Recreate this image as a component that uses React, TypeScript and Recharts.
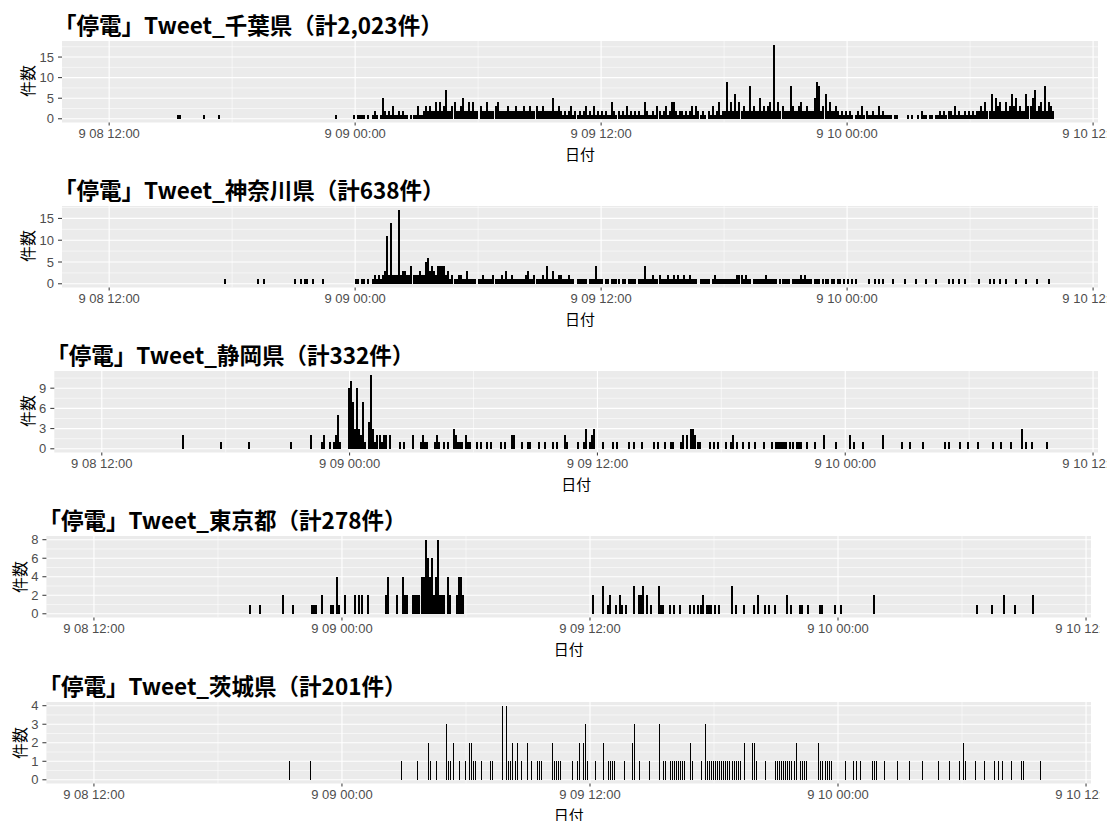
import React from 'react';
import { BarChart, Bar, XAxis, YAxis, CartesianGrid } from 'recharts';

// one row per hour (hours since 9/8 00:00), then the tweet count for each 6-minute slot of that hour
const chibaRows: number[][] = [
  [15, 0, 0, 0, 1, 1, 0, 0, 0, 0, 0],
  [16, 0, 0, 0, 0, 0, 0, 1, 0, 0, 0],
  [17, 0, 0, 0, 1, 0, 0, 0, 0, 0, 0],
  [23, 1, 0, 0, 0, 0, 0, 0, 0, 0, 1],
  [24, 0, 1, 1, 1, 1, 0, 1, 0, 1, 2],
  [25, 1, 0, 1, 5, 2, 1, 2, 1, 3, 1],
  [26, 1, 2, 1, 2, 1, 1, 0, 1, 1, 1],
  [27, 3, 1, 1, 2, 3, 2, 3, 2, 2, 4],
  [28, 2, 4, 2, 3, 7, 2, 2, 3, 4, 2],
  [29, 2, 3, 5, 2, 2, 4, 2, 4, 2, 2],
  [30, 0, 3, 2, 2, 4, 2, 2, 2, 3, 4],
  [31, 2, 2, 2, 2, 3, 2, 2, 2, 3, 2],
  [32, 2, 2, 3, 2, 2, 3, 2, 2, 3, 2],
  [33, 2, 3, 2, 2, 2, 2, 5, 2, 2, 3],
  [34, 2, 1, 2, 1, 2, 3, 1, 2, 1, 2],
  [35, 1, 2, 3, 1, 2, 1, 3, 1, 2, 1],
  [36, 2, 1, 2, 1, 1, 4, 2, 1, 2, 1],
  [37, 2, 1, 3, 1, 2, 1, 2, 1, 2, 1],
  [38, 1, 4, 2, 1, 1, 2, 1, 3, 2, 1],
  [39, 2, 3, 1, 2, 4, 4, 2, 1, 2, 2],
  [40, 1, 2, 1, 2, 3, 1, 3, 2, 1, 2],
  [41, 1, 0, 2, 1, 3, 1, 2, 4, 1, 2],
  [42, 2, 9, 2, 4, 2, 6, 2, 4, 2, 3],
  [43, 2, 2, 8, 2, 3, 2, 2, 5, 2, 3],
  [44, 2, 3, 4, 2, 18, 2, 4, 2, 3, 2],
  [45, 2, 2, 8, 3, 2, 2, 3, 4, 2, 2],
  [46, 3, 2, 2, 2, 5, 9, 8, 2, 3, 6],
  [47, 2, 4, 2, 2, 3, 2, 1, 2, 1, 2],
  [48, 1, 2, 1, 0, 1, 2, 1, 3, 1, 2],
  [49, 1, 1, 2, 1, 1, 3, 1, 2, 1, 1],
  [50, 1, 1, 0, 1, 1, 0, 0, 0, 0, 1],
  [51, 0, 1, 0, 0, 1, 0, 2, 1, 1, 0],
  [52, 1, 1, 0, 1, 1, 2, 1, 2, 1, 2],
  [53, 2, 1, 3, 1, 2, 1, 1, 2, 1, 2],
  [54, 1, 2, 1, 2, 2, 3, 2, 4, 2, 2],
  [55, 6, 2, 5, 3, 4, 2, 2, 4, 2, 3],
  [56, 6, 3, 5, 2, 3, 2, 2, 6, 3, 3],
  [57, 5, 7, 2, 3, 4, 2, 8, 2, 4, 3],
  [58, 2, 0, 0, 0, 0, 0, 0, 0, 0, 0],
];

const kanagawaRows: number[][] = [
  [17, 0, 0, 0, 0, 0, 0, 1, 0, 0, 0],
  [19, 0, 0, 1, 0, 0, 1, 0, 0, 0, 0],
  [21, 1, 0, 0, 1, 0, 1, 1, 0, 0, 1],
  [22, 0, 0, 0, 0, 1, 0, 0, 0, 0, 0],
  [24, 1, 1, 0, 1, 1, 0, 1, 0, 1, 2],
  [25, 1, 2, 1, 2, 3, 11, 2, 14, 2, 2],
  [26, 2, 17, 2, 3, 3, 2, 2, 4, 2, 2],
  [27, 2, 3, 2, 2, 5, 6, 3, 4, 3, 2],
  [28, 4, 4, 4, 4, 2, 3, 1, 2, 1, 1],
  [29, 2, 2, 1, 1, 3, 1, 1, 1, 1, 0],
  [30, 1, 1, 2, 1, 1, 1, 1, 2, 1, 1],
  [31, 1, 2, 1, 3, 1, 1, 2, 1, 1, 1],
  [32, 1, 1, 1, 2, 3, 1, 1, 2, 1, 1],
  [33, 1, 2, 1, 4, 1, 1, 3, 1, 1, 2],
  [34, 2, 1, 1, 1, 2, 1, 1, 0, 1, 1],
  [35, 1, 1, 1, 0, 1, 1, 1, 4, 1, 1],
  [36, 1, 0, 1, 1, 0, 1, 1, 1, 1, 0],
  [37, 1, 1, 0, 1, 1, 1, 1, 0, 1, 1],
  [38, 1, 4, 1, 1, 1, 2, 1, 1, 2, 1],
  [39, 1, 1, 2, 1, 1, 2, 1, 2, 1, 1],
  [40, 2, 1, 1, 2, 1, 1, 1, 0, 1, 1],
  [41, 1, 1, 1, 0, 1, 2, 1, 1, 1, 1],
  [42, 1, 1, 1, 1, 1, 1, 2, 2, 2, 1],
  [43, 2, 1, 1, 0, 1, 1, 1, 1, 1, 1],
  [44, 2, 1, 1, 1, 1, 1, 0, 1, 1, 1],
  [45, 1, 1, 0, 1, 1, 1, 1, 2, 1, 2],
  [46, 1, 1, 1, 0, 1, 1, 1, 0, 1, 1],
  [47, 1, 0, 1, 1, 0, 1, 1, 0, 1, 0],
  [48, 1, 0, 1, 0, 1, 0, 0, 0, 0, 0],
  [49, 1, 0, 0, 1, 0, 1, 0, 1, 0, 0],
  [50, 0, 0, 1, 0, 0, 0, 0, 0, 1, 0],
  [51, 0, 0, 0, 1, 0, 0, 0, 0, 1, 0],
  [52, 0, 0, 0, 1, 0, 0, 0, 0, 0, 1],
  [53, 0, 1, 0, 0, 1, 0, 0, 1, 0, 0],
  [54, 0, 0, 0, 0, 1, 0, 0, 0, 0, 1],
  [55, 0, 1, 0, 0, 1, 0, 0, 1, 0, 0],
  [56, 0, 0, 1, 0, 0, 0, 0, 1, 0, 0],
  [57, 0, 0, 1, 0, 0, 0, 0, 0, 1, 0],
];

const shizuokaRows: number[][] = [
  [15, 0, 0, 0, 0, 0, 0, 0, 0, 0, 2],
  [17, 0, 0, 0, 0, 0, 0, 0, 1, 0, 0],
  [19, 0, 1, 0, 0, 0, 0, 0, 0, 0, 0],
  [21, 0, 1, 0, 0, 0, 0, 0, 0, 0, 0],
  [22, 0, 2, 0, 0, 0, 0, 1, 2, 0, 0],
  [23, 1, 0, 1, 2, 5, 1, 0, 0, 0, 9],
  [24, 10, 7, 3, 9, 3, 2, 7, 1, 0, 4],
  [25, 11, 3, 1, 2, 2, 1, 2, 2, 0, 2],
  [26, 0, 0, 0, 0, 1, 0, 1, 0, 0, 0],
  [27, 2, 0, 0, 0, 1, 2, 1, 1, 0, 0],
  [28, 0, 1, 2, 1, 0, 1, 0, 1, 0, 0],
  [29, 3, 2, 1, 1, 1, 0, 2, 1, 1, 0],
  [30, 0, 1, 0, 1, 0, 0, 1, 0, 1, 0],
  [31, 0, 0, 0, 1, 0, 1, 0, 0, 2, 2],
  [32, 0, 0, 0, 1, 0, 0, 1, 1, 0, 0],
  [33, 0, 1, 0, 0, 1, 0, 0, 0, 1, 0],
  [34, 1, 0, 0, 0, 2, 1, 0, 0, 0, 0],
  [35, 1, 0, 0, 1, 3, 0, 1, 2, 3, 0],
  [36, 0, 0, 1, 0, 0, 0, 0, 1, 0, 1],
  [37, 0, 0, 0, 0, 0, 1, 0, 1, 0, 0],
  [38, 0, 1, 0, 0, 0, 0, 0, 1, 0, 1],
  [39, 0, 0, 1, 0, 0, 1, 1, 0, 0, 0],
  [40, 1, 2, 0, 2, 0, 3, 3, 2, 1, 1],
  [41, 0, 0, 0, 0, 1, 0, 1, 0, 1, 0],
  [42, 0, 0, 1, 0, 1, 2, 0, 1, 0, 0],
  [43, 1, 0, 0, 1, 0, 0, 1, 0, 0, 0],
  [44, 1, 0, 0, 0, 1, 0, 1, 1, 1, 1],
  [45, 1, 1, 0, 1, 1, 0, 1, 1, 1, 0],
  [46, 0, 1, 0, 0, 0, 1, 0, 0, 0, 2],
  [47, 0, 0, 0, 0, 0, 1, 0, 0, 0, 0],
  [48, 0, 0, 2, 0, 1, 0, 0, 0, 1, 0],
  [49, 0, 0, 0, 0, 0, 0, 0, 0, 2, 0],
  [50, 0, 0, 0, 0, 0, 0, 0, 1, 0, 0],
  [51, 0, 1, 0, 0, 0, 0, 0, 1, 0, 0],
  [52, 0, 0, 0, 0, 0, 0, 0, 0, 1, 0],
  [53, 1, 0, 0, 0, 0, 1, 0, 0, 0, 1],
  [54, 0, 0, 0, 0, 1, 0, 0, 0, 0, 0],
  [55, 0, 1, 0, 0, 0, 1, 0, 0, 0, 0],
  [56, 1, 0, 0, 0, 0, 3, 0, 1, 0, 0],
  [57, 1, 0, 0, 0, 0, 0, 0, 1, 0, 0],
];

const tokyoRows: number[][] = [
  [19, 0, 0, 0, 0, 0, 1, 0, 0, 0, 0],
  [20, 1, 0, 0, 0, 0, 0, 0, 0, 0, 0],
  [21, 0, 2, 0, 0, 0, 0, 1, 0, 0, 0],
  [22, 0, 0, 0, 0, 0, 1, 1, 1, 0, 0],
  [23, 2, 0, 0, 0, 1, 1, 0, 4, 1, 0],
  [24, 0, 2, 0, 0, 0, 0, 2, 0, 2, 2],
  [25, 0, 0, 2, 0, 0, 0, 0, 0, 0, 0],
  [26, 0, 2, 4, 0, 0, 0, 2, 0, 0, 4],
  [27, 2, 2, 0, 0, 2, 2, 2, 2, 4, 4],
  [28, 8, 6, 4, 6, 2, 4, 8, 2, 2, 2],
  [29, 0, 4, 2, 0, 0, 2, 4, 4, 2, 0],
  [36, 0, 2, 0, 0, 0, 0, 3, 0, 1, 2],
  [37, 0, 0, 1, 0, 2, 1, 0, 1, 0, 0],
  [38, 0, 3, 0, 2, 2, 3, 0, 2, 0, 1],
  [39, 0, 0, 0, 3, 1, 1, 0, 0, 1, 0],
  [40, 1, 0, 0, 1, 0, 0, 0, 0, 1, 0],
  [41, 1, 0, 1, 1, 2, 0, 1, 1, 1, 0],
  [42, 1, 0, 1, 0, 0, 0, 0, 0, 3, 0],
  [43, 1, 0, 0, 0, 1, 0, 0, 0, 0, 1],
  [44, 0, 2, 0, 0, 1, 0, 1, 0, 0, 1],
  [45, 0, 0, 0, 0, 0, 2, 0, 1, 0, 0],
  [46, 0, 1, 1, 0, 0, 1, 0, 0, 0, 0],
  [47, 0, 1, 1, 0, 0, 0, 0, 0, 1, 0],
  [48, 0, 1, 0, 0, 0, 0, 0, 0, 0, 0],
  [49, 0, 0, 0, 0, 0, 0, 0, 2, 0, 0],
  [54, 0, 0, 0, 0, 0, 0, 0, 1, 0, 0],
  [55, 0, 0, 0, 0, 1, 0, 0, 0, 0, 0],
  [56, 2, 0, 0, 0, 0, 1, 0, 0, 0, 0],
  [57, 0, 0, 0, 0, 2, 0, 0, 0, 0, 0],
];

const ibarakiRows: number[][] = [
  [21, 0, 0, 0, 0, 1, 0, 0, 0, 0, 0],
  [22, 0, 0, 0, 0, 1, 0, 0, 0, 0, 0],
  [26, 0, 0, 0, 0, 0, 0, 0, 0, 1, 0],
  [27, 0, 0, 0, 0, 0, 0, 1, 0, 0, 0],
  [28, 0, 2, 1, 0, 0, 1, 0, 0, 0, 0],
  [29, 3, 1, 1, 2, 0, 0, 1, 0, 0, 1],
  [30, 0, 2, 2, 1, 1, 0, 0, 1, 0, 0],
  [31, 0, 1, 1, 0, 0, 0, 0, 4, 0, 4],
  [32, 1, 1, 2, 1, 2, 0, 1, 0, 0, 2],
  [33, 0, 1, 0, 0, 1, 1, 1, 0, 0, 0],
  [34, 0, 2, 1, 1, 1, 1, 0, 0, 0, 0],
  [35, 0, 1, 0, 1, 2, 0, 2, 3, 1, 0],
  [36, 0, 0, 1, 0, 0, 0, 2, 0, 1, 1],
  [37, 1, 1, 0, 0, 0, 0, 1, 0, 0, 0],
  [38, 2, 3, 0, 1, 0, 0, 0, 0, 1, 0],
  [39, 0, 0, 0, 3, 0, 1, 1, 0, 1, 1],
  [40, 1, 1, 1, 1, 1, 1, 0, 0, 2, 1],
  [41, 0, 0, 0, 1, 0, 3, 1, 1, 1, 1],
  [42, 1, 1, 1, 1, 1, 1, 1, 1, 1, 1],
  [43, 1, 1, 1, 0, 2, 0, 0, 0, 2, 2],
  [44, 1, 0, 0, 0, 1, 0, 0, 0, 0, 1],
  [45, 1, 1, 1, 1, 1, 1, 1, 1, 1, 2],
  [46, 0, 1, 1, 1, 1, 0, 0, 0, 0, 0],
  [47, 2, 1, 1, 1, 1, 1, 1, 0, 0, 0],
  [48, 0, 0, 0, 1, 0, 0, 0, 1, 1, 0],
  [49, 1, 0, 0, 0, 0, 0, 1, 1, 1, 0],
  [50, 0, 0, 1, 0, 0, 0, 0, 0, 1, 0],
  [51, 0, 0, 0, 0, 1, 0, 0, 0, 0, 0],
  [52, 1, 0, 0, 0, 0, 0, 0, 0, 1, 0],
  [53, 0, 0, 0, 1, 0, 0, 0, 0, 1, 0],
  [54, 2, 1, 0, 0, 0, 0, 1, 0, 0, 0],
  [55, 1, 0, 0, 0, 0, 1, 0, 1, 0, 1],
  [56, 0, 0, 0, 1, 0, 0, 0, 0, 1, 1],
  [57, 0, 0, 0, 0, 0, 0, 0, 1, 0, 0],
];

const xTicks = [12, 24, 36, 48, 60];
const xTickLabels = ['9 08 12:00', '9 09 00:00', '9 09 12:00', '9 10 00:00', '9 10 12:00'];
const xMinor = [18, 30, 42, 54];

const titles = [
  '「停電」Tweet_千葉県（計2,023件）',
  '「停電」Tweet_神奈川県（計638件）',
  '「停電」Tweet_静岡県（計332件）',
  '「停電」Tweet_東京都（計278件）',
  '「停電」Tweet_茨城県（計201件）',
];

const toBars = (rows: number[][]) =>
  rows
    .flatMap(([h, ...slots]) => slots.map((n, k) => ({ t: h + k / 10 + 0.05, n })))
    .filter((d) => d.n > 0);

const panels = [
  { title: titles[0], rows: chibaRows, yDomain: [-0.9, 18.9], yTicks: [0, 5, 10, 15], yMinor: [2.5, 7.5, 12.5, 17.5], top: 40.5, left: 62, right: 1098, yTitleX: 27, barW: 2 },
  { title: titles[1], rows: kanagawaRows, yDomain: [-0.85, 17.85], yTicks: [0, 5, 10, 15], yMinor: [2.5, 7.5, 12.5, 17.5], top: 205.5, left: 62, right: 1098, yTitleX: 27, barW: 2 },
  { title: titles[2], rows: shizuokaRows, yDomain: [-0.55, 11.55], yTicks: [0, 3, 6, 9], yMinor: [1.5, 4.5, 7.5, 10.5], top: 370.5, left: 54.3, right: 1098, yTitleX: 27, barW: 2 },
  { title: titles[3], rows: tokyoRows, yDomain: [-0.4, 8.4], yTicks: [0, 2, 4, 6, 8], yMinor: [1, 3, 5, 7], top: 536, left: 46.4, right: 1091, yTitleX: 19, barW: 2 },
  { title: titles[4], rows: ibarakiRows, yDomain: [-0.2, 4.2], yTicks: [0, 1, 2, 3, 4], yMinor: [0.5, 1.5, 2.5, 3.5], top: 702, left: 46.4, right: 1091, yTitleX: 19, barW: 1 },
];

const PLOT_H = 81.5;
const X_DOMAIN: [number, number] = [9.7, 60.24];
const CJK = '"Noto Sans CJK JP", "Noto Sans CJK SC", sans-serif';
const tickFont = { fill: '#4D4D4D', fontSize: 13, fontFamily: '"Liberation Sans", Arial, sans-serif' };

const BarShape = (p: any) =>
  p.height > 0 ? (
    <rect x={p.x} y={p.y} width={p.width} height={p.height} fill="#000" shapeRendering="crispEdges" />
  ) : (
    <g />
  );

function Panel({ cfg }: { cfg: (typeof panels)[number] }) {
  const data = toBars(cfg.rows);
  // the source image cuts the last date label just after "9 10 12"
  const W = Math.round(cfg.right + 9);
  return (
    <>
      <div
        style={{
          position: 'absolute', left: cfg.left - 8, top: cfg.top - 17, transform: 'translateY(-50%)',
          fontFamily: CJK, fontWeight: 700, fontSize: 22.5, whiteSpace: 'nowrap', color: '#000', lineHeight: 1,
        }}
      >
        {cfg.title}
      </div>
      <div
        style={{
          position: 'absolute', left: cfg.yTitleX, top: cfg.top + PLOT_H / 2,
          transform: 'translate(-50%, -50%) rotate(-90deg)', fontFamily: CJK, fontSize: 16,
          whiteSpace: 'nowrap', color: '#000', lineHeight: 1,
        }}
      >
        件数
      </div>
      <div style={{ position: 'absolute', left: 0, top: cfg.top - 5, width: W, height: PLOT_H + 35, overflow: 'hidden' }}>
        <BarChart
          width={W}
          height={PLOT_H + 35}
          data={data}
          margin={{ top: 5, right: W - cfg.right, left: 0, bottom: 0 }}
        >
          <CartesianGrid fill="#EBEBEB" stroke="#FFFFFF" strokeWidth={0.55} horizontalValues={cfg.yMinor} verticalValues={xMinor} />
          <CartesianGrid stroke="#FFFFFF" strokeWidth={1.1} horizontalValues={cfg.yTicks} verticalValues={xTicks} />
          <XAxis
            dataKey="t"
            type="number"
            domain={X_DOMAIN}
            allowDataOverflow
            ticks={xTicks}
            interval={0}
            tickFormatter={(v: number) => xTickLabels[xTicks.indexOf(v)]}
            height={30}
            axisLine={false}
            tickSize={3}
            tickMargin={3}
            tickLine={{ stroke: '#333333' }}
            tick={tickFont}
          />
          <YAxis
            type="number"
            domain={cfg.yDomain}
            allowDataOverflow
            ticks={cfg.yTicks}
            interval={0}
            width={cfg.left}
            axisLine={false}
            tickSize={4}
            tickMargin={4}
            tickLine={{ stroke: '#333333' }}
            tick={tickFont}
          />
          <Bar dataKey="n" barSize={cfg.barW} fill="#000" isAnimationActive={false} shape={BarShape} />
        </BarChart>
      </div>
      <div
        style={{
          position: 'absolute', left: (cfg.left + cfg.right) / 2, top: cfg.top + PLOT_H + 30.5,
          transform: 'translate(-50%, -50%)', fontFamily: CJK, fontSize: 15, color: '#000', lineHeight: 1,
          whiteSpace: 'nowrap',
        }}
      >
        日付
      </div>
    </>
  );
}

export default function App() {
  return (
    <div style={{ position: 'absolute', left: 0, top: 0, width: 1110, height: 821, background: '#fff', overflow: 'hidden' }}>
      {panels.map((p) => (
        <Panel key={p.title} cfg={p} />
      ))}
    </div>
  );
}
